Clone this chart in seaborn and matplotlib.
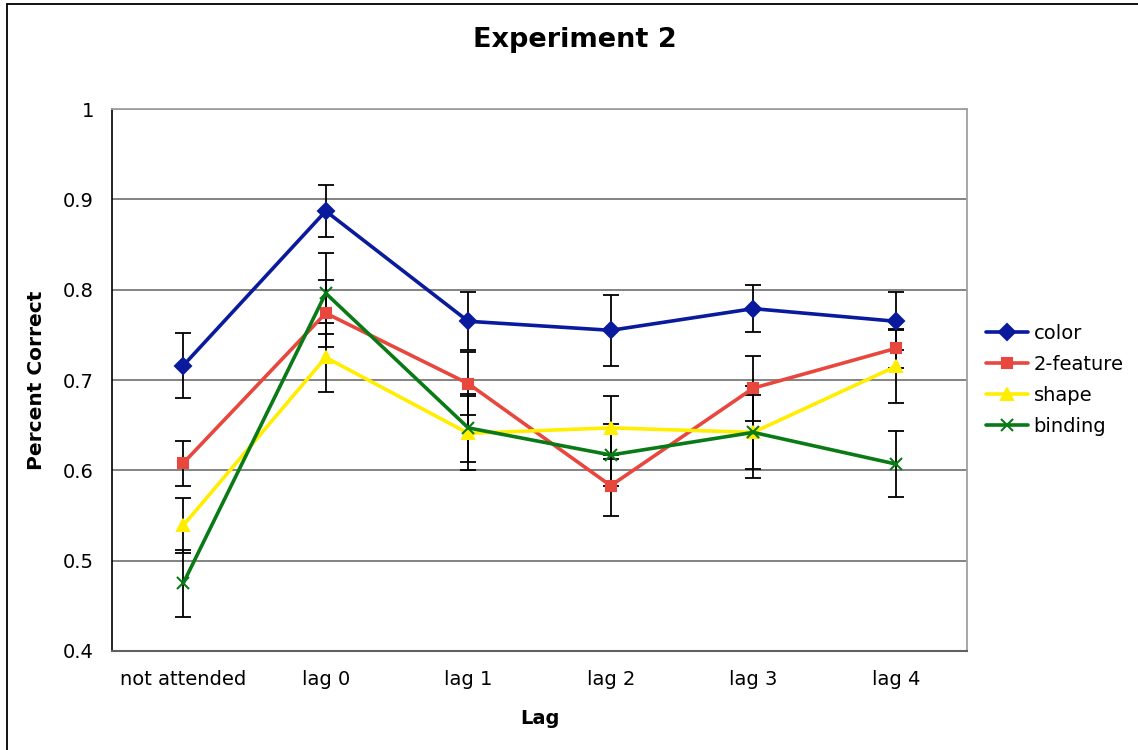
import matplotlib
matplotlib.use("Agg")
import matplotlib.pyplot as plt
import numpy as np
import pandas as pd
import seaborn as sns
from matplotlib.lines import Line2D

# data
lags = ['not attended', 'lag 0', 'lag 1', 'lag 2', 'lag 3', 'lag 4']
series = ['color', '2-feature', 'shape', 'binding']

color_vals = [0.716, 0.887, 0.765, 0.755, 0.779, 0.765]
twofeat_vals = [0.608, 0.774, 0.696, 0.583, 0.691, 0.735]
shape_vals = [0.539, 0.725, 0.641, 0.647, 0.642, 0.715]
binding_vals = [0.475, 0.796, 0.647, 0.617, 0.642, 0.607]

color_err = [0.036, 0.029, 0.032, 0.039, 0.026, 0.032]
twofeat_err = [0.025, 0.037, 0.035, 0.034, 0.036, 0.022]
shape_err = [0.030, 0.038, 0.041, 0.035, 0.041, 0.040]
binding_err = [0.037, 0.045, 0.038, 0.034, 0.051, 0.037]

palette = {'color': '#0a1a9c', '2-feature': '#e8473e',
           'shape': '#ffee00', 'binding': '#0a7a16'}
markers = {'color': 'D', '2-feature': 's', 'shape': '^', 'binding': 'x'}
msizes = {'color': 8, '2-feature': 7, 'shape': 9, 'binding': 9}

vals = [color_vals, twofeat_vals, shape_vals, binding_vals]
errs = [color_err, twofeat_err, shape_err, binding_err]

rows = []
for name, v, e in zip(series, vals, errs):
    for i, lag in enumerate(lags):
        rows.append({'pos': i, 'lag': lag, 'series': name, 'value': v[i], 'err': e[i]})
df = pd.DataFrame(rows)

sns.set_style('white')
plt.rcParams['font.family'] = ['DejaVu Sans']
plt.rcParams['text.color'] = 'black'
plt.rcParams['axes.labelcolor'] = 'black'
plt.rcParams['xtick.labelcolor'] = 'black'
plt.rcParams['ytick.labelcolor'] = 'black'

fig = plt.figure(figsize=(11.38, 7.5), dpi=100)
ax = fig.add_axes([112 / 1138, 1 - 651 / 750, (967 - 112) / 1138, (651 - 109) / 750])

# error bars first, under the lines
for name in series:
    sub = df[df['series'] == name]
    ax.errorbar(sub['pos'], sub['value'], yerr=sub['err'], fmt='none',
                ecolor='black', elinewidth=1.3, capsize=6, capthick=1.3, zorder=2)

for name in series:
    sub = df[df['series'] == name]
    sns.lineplot(data=sub, x='pos', y='value', color=palette[name],
                 marker=markers[name], markersize=msizes[name],
                 markeredgewidth=1.5, markeredgecolor=palette[name],
                 linewidth=2.6, ax=ax, legend=False, zorder=3)

ax.set_xlim(-0.5, len(lags) - 0.5)
ax.set_ylim(0.4, 1.0)
ax.set_yticks(np.arange(0.4, 1.01, 0.1))
ax.set_yticklabels(['0.4', '0.5', '0.6', '0.7', '0.8', '0.9', '1'])
ax.set_xticks(range(len(lags)))
ax.set_xticklabels(lags)
ax.set_xticks(np.arange(-0.5, len(lags), 1.0), minor=True)
ax.tick_params(axis='x', which='major', length=0, pad=14, labelsize=14)
ax.tick_params(axis='x', which='minor', length=5, color='#606060', width=1.2)
ax.tick_params(axis='y', length=5, color='black', width=1.2, pad=8, labelsize=14)

ax.yaxis.grid(True, color='#7a7a7a', linewidth=1.3)
ax.set_axisbelow(True)
for side in ['top', 'right']:
    ax.spines[side].set_color('#a0a0a0')
    ax.spines[side].set_linewidth(1.3)
ax.spines['bottom'].set_color('#606060')
ax.spines['bottom'].set_linewidth(1.5)
ax.spines['left'].set_color('black')
ax.spines['left'].set_linewidth(1.2)

ax.set_xlabel('Lag', fontsize=14, fontweight='bold', labelpad=14)
ax.set_ylabel('Percent Correct', fontsize=14.5, fontweight='bold', labelpad=12)
fig.text(575 / 1138, 1 - 40 / 750, 'Experiment 2', ha='center', va='center',
         fontsize=19.5, fontweight='bold')

handles = [Line2D([], [], color=palette[s], marker=markers[s], markersize=msizes[s],
                  markeredgewidth=1.5, markeredgecolor=palette[s], linewidth=2.6)
           for s in series]
fig.legend(handles, series, loc='center left', bbox_to_anchor=(986 / 1138, 1 - 380 / 750),
           frameon=False, fontsize=14, handlelength=2.15, handletextpad=0.3,
           labelspacing=0.62, borderaxespad=0, borderpad=0)

# chart area border (left and top edges visible)
fig.add_artist(Line2D([7 / 1138, 7 / 1138], [0, 1 - 4 / 750], color='black', linewidth=1.3,
                      transform=fig.transFigure))
fig.add_artist(Line2D([7 / 1138, 1], [1 - 4 / 750, 1 - 4 / 750], color='black', linewidth=1.3,
                      transform=fig.transFigure))

fig.savefig('out.png', dpi=100)
